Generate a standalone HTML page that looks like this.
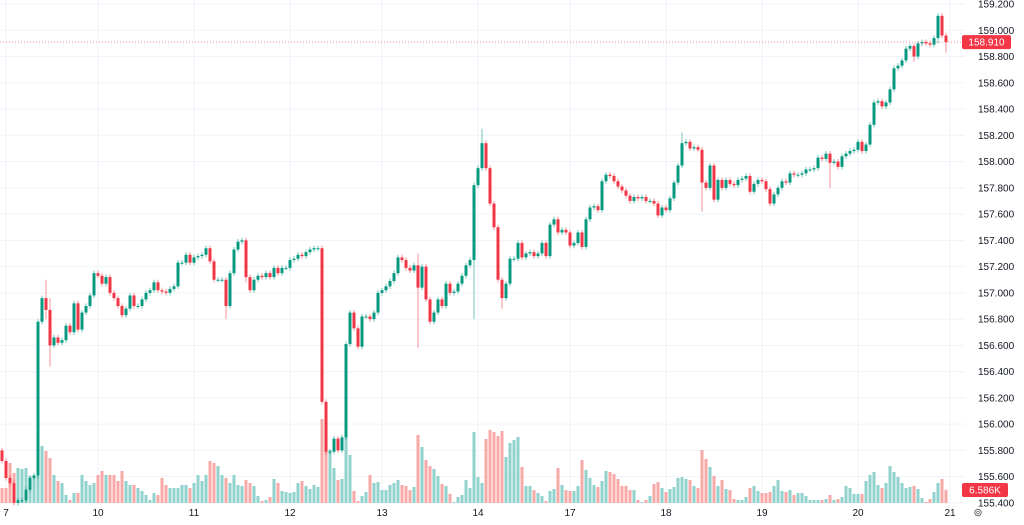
<!DOCTYPE html>
<html><head><meta charset="utf-8"><style>
html,body{margin:0;padding:0;background:#fff;}
body{width:1024px;height:520px;overflow:hidden;font-family:"Liberation Sans",sans-serif;}
svg text{font-family:"Liberation Sans",sans-serif;font-size:10px;fill:#131722;}
</style></head><body>
<svg id="chart" width="1024" height="520" viewBox="0 0 1024 520" xmlns="http://www.w3.org/2000/svg">
<g id="grid"></g>
<g id="vol"></g>
<g id="candles"></g>
<g id="yaxis"></g>
<g id="xaxis"></g>
<g id="marks"></g>
</svg>
<script>
const closes = [155.72,155.59,155.55,155.40,155.42,155.42,155.50,155.59,155.61,156.78,
156.96,156.87,156.60,156.66,156.62,156.64,156.75,156.70,156.92,156.72,
156.85,156.90,156.98,157.15,157.13,157.07,157.12,157.00,156.96,156.90,
156.83,156.88,156.98,156.90,156.90,156.95,157.00,157.02,157.08,157.02,
157.01,157.00,157.03,157.05,157.23,157.23,157.29,157.23,157.27,157.28,
157.29,157.34,157.24,157.10,157.10,157.10,156.90,157.15,157.33,157.39,
157.40,157.12,157.02,157.10,157.13,157.12,157.15,157.12,157.19,157.15,
157.19,157.19,157.25,157.26,157.29,157.28,157.31,157.33,157.34,157.34,
156.17,155.79,155.79,155.89,155.80,155.90,156.61,156.85,156.73,156.59,
156.82,156.82,156.80,156.85,157.00,157.02,157.05,157.09,157.15,157.27,
157.25,157.19,157.17,157.21,157.04,157.20,156.95,156.78,156.85,156.95,
156.90,157.07,157.00,157.01,157.07,157.13,157.21,157.25,157.82,157.95,
158.14,157.95,157.68,157.50,157.10,156.96,157.07,157.26,157.26,157.38,
157.27,157.30,157.31,157.28,157.30,157.38,157.28,157.52,157.56,157.46,
157.48,157.46,157.36,157.38,157.46,157.35,157.56,157.65,157.66,157.63,
157.85,157.90,157.89,157.85,157.81,157.78,157.74,157.70,157.73,157.72,
157.73,157.70,157.70,157.68,157.59,157.65,157.63,157.72,157.84,157.97,
158.14,158.15,158.10,158.11,158.09,157.84,157.80,157.97,157.71,157.86,
157.80,157.86,157.83,157.82,157.86,157.87,157.89,157.77,157.83,157.86,
157.85,157.79,157.68,157.75,157.80,157.85,157.84,157.91,157.90,157.90,
157.91,157.94,157.94,157.95,158.03,158.02,158.06,157.99,158.00,157.96,
158.04,158.06,158.08,158.09,158.15,158.08,158.13,158.28,158.45,158.46,
158.42,158.45,158.55,158.71,158.73,158.77,158.86,158.88,158.80,158.90,
158.91,158.90,158.89,158.94,159.11,158.96,158.91];
const firstOpen = 155.80;
const volumes = [7.5,7.5,20,15,17.5,17,17.5,13.5,13.5,28.5,
28.5,26,22.5,14,11,10,4,1.5,5,5,
14,11,9,10,14,16,14,14,14,11,
16,11,9,9,7.5,6,4,1.5,5,4,
12.5,9,7.5,7.5,7.5,9,9,7.5,10,14,
11,14,21,20,18.5,14,12.5,10,14,9,
8.5,11.5,10,8.5,3.5,1,1.5,3,12,10,
6,5.5,5,5.5,10,11,8.5,7,9,8,
42,37,26.5,17.5,11.5,12,33.5,24,6,1,
3.5,5.5,14,10,10.5,6.5,6.5,9,10,11.5,
9,8.5,6.5,8,34,28,21.5,18.5,17,13.5,
9.5,8.5,4.5,0.5,3,4,11.5,7.5,35.5,13,
10,32,36.5,35.5,33.5,36,23,30,31.5,33,
18,8.5,8.5,6.5,5,3.5,1,6,7,17.5,
9,6.5,6,6,8.5,21.5,16.5,12.5,9,8,
11,16,15.5,14.5,12,8.5,8.5,6.5,6.5,1.5,
0.5,1.5,3.5,9.5,10.5,7.5,5.5,7,8,12.5,
13,12,11.5,8.5,7.5,26.5,22,18,13.5,8.5,
11.5,7,6.5,2,1.5,1.5,3,7.5,8.5,6,
5,5,5.5,8.5,11.5,6,5.5,6.5,4,5,
5,3.5,1.5,1.5,1.5,1.5,2,4,1.5,2,
3,8.5,7.5,4.5,4.5,4.5,11,14,15.5,9,
7.5,10,18.5,15.5,13,10,7.5,8,8.5,7,
2.5,0.5,2,5.5,10,12,6.586];
const spikeIdx  = [9,11,12,56,61,104,118,120,125,170,175,207,217,228,234,236];
const spikeHigh = [156.80,157.10,156.96,157.12,157.42,157.30,157.82,158.25,157.10,158.22,158.10,158.06,158.28,158.90,159.13,158.96];
const spikeLow  = [155.58,156.80,156.44,156.80,157.08,156.58,156.80,157.95,156.88,158.05,157.62,157.80,158.22,158.76,158.90,158.83];
const priceTicks = ["159.200","159.000","158.800","158.600","158.400","158.200","158.000","157.800","157.600","157.400","157.200","157.000","156.800","156.600","156.400","156.200","156.000","155.800","155.600","155.400"];
const dayLabels = ["7","10","11","12","13","14","17","18","19","20","21"];
const dayStartIdx = [1,24,48,72,95,119,142,166,190,214,237];
const lastPrice = 158.910;
const lastVolumeLabel = "6.586K";

const NS="http://www.w3.org/2000/svg";
const plotRight=965;
function yP(p){return 4+(159.2-p)*131.3;}
function xI(i){return 2+4*i;}
function yV(v){return 503-v*2;}
function mk(tag,attrs,parent){const e=document.createElementNS(NS,tag);for(const k in attrs)e.setAttribute(k,attrs[k]);parent.appendChild(e);return e;}
const G=id=>document.getElementById(id);

// grid + price axis
priceTicks.forEach(t=>{
  const y=yP(parseFloat(t));
  const l=mk('line',{x1:0,x2:plotRight,y1:y,y2:y,stroke:'#f0f3fa','stroke-width':1},G('grid'));
  
  
  const tx=mk('text',{x:978,y:y+3.5},G('yaxis'));
  tx.textContent=t;
  
  
});
dayLabels.forEach((d,k)=>{
  const x=xI(dayStartIdx[k]);
  const l=mk('line',{x1:x,x2:x,y1:0,y2:503,stroke:'#f0f3fa','stroke-width':1},G('grid'));
  
  
  const tx=mk('text',{x:x,y:516,'text-anchor':'middle'},G('xaxis'));
  tx.textContent=d;
  
  
});

// candles + volume
closes.forEach((c,i)=>{
  const o=i===0?firstOpen:closes[i-1];
  const up=c>=o;
  const col=up?'#089981':'#f23645';
  let hi=Math.max(o,c)+0.02, lo=Math.min(o,c)-0.02;
  const s=spikeIdx.indexOf(i);
  if(s>=0){hi=Math.max(hi,spikeHigh[s]);lo=Math.min(lo,spikeLow[s]);}
  const x=xI(i);
  const vb=mk('rect',{x:x-1.5,y:yV(volumes[i]),width:3,height:503-yV(volumes[i]),fill:up?'#92d2cc':'#f7a9a7'},G('vol'));
  
  
  const w=mk('line',{x1:x,x2:x,y1:yP(hi),y2:yP(lo),stroke:col,'stroke-width':1,opacity:0.55},G('candles'));
  
  
  const top=yP(Math.max(o,c)), h=Math.max(1,yP(Math.min(o,c))-top);
  const b=mk('rect',{x:x-1.5,y:top,width:3,height:h,fill:col},G('candles'));
  
  
});

// last price line and labels
const ly=yP(lastPrice);
const pl=mk('line',{x1:0,x2:plotRight,y1:ly,y2:ly,stroke:'#f23645','stroke-width':1,'stroke-dasharray':'1,2',opacity:0.6},G('marks'));


const pb=mk('rect',{x:962,y:ly-7,width:49,height:14,rx:2,fill:'#f23645'},G('marks'));


const pt=mk('text',{x:986.5,y:ly+3.5,'text-anchor':'middle',style:'fill:#fff'},G('marks'));
pt.textContent=lastPrice.toFixed(3);


const vy=490;
const vbx=mk('rect',{x:962,y:vy-7,width:46,height:14,rx:2,fill:'#f23645'},G('marks'));


const vt=mk('text',{x:985,y:vy+3.5,'text-anchor':'middle',style:'fill:#fff'},G('marks'));
vt.textContent=lastVolumeLabel;


const gear=mk('text',{x:978,y:516,'text-anchor':'middle',style:'fill:#555;font-size:11px'},G('marks'));
gear.textContent='⊚';


</script>
</body></html>
